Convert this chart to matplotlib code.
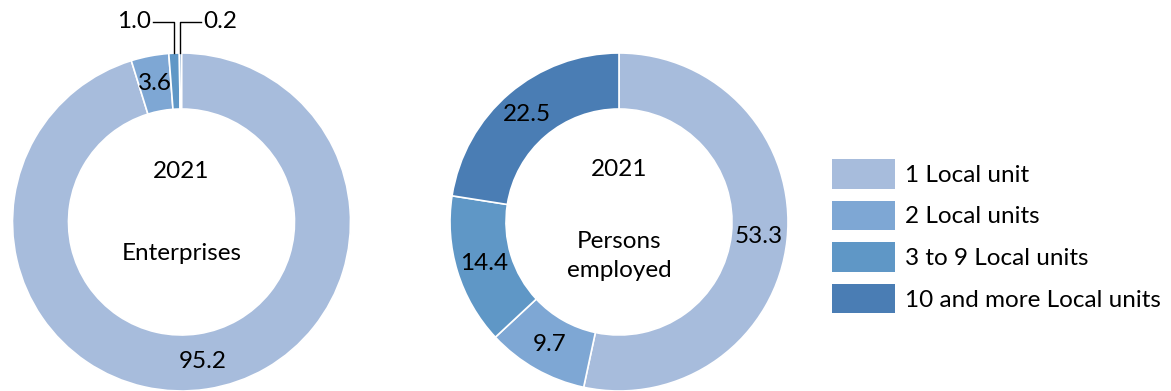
import numpy as np
import matplotlib
matplotlib.use('Agg')
import matplotlib.pyplot as plt
from matplotlib.patches import Patch

plt.rcParams['font.family'] = ['Lato', 'DejaVu Sans']

# Share by number of local units, 2021 (%)
categories = ['1 Local unit', '2 Local units', '3 to 9 Local units', '10 and more Local units']
enterprises = [95.2, 3.6, 1.0, 0.2]
persons_employed = [53.3, 9.7, 14.4, 22.5]
colors = ['#A7BCDC', '#7EA7D4', '#5F97C6', '#4A7DB4']

W, H = 1171, 391
fig = plt.figure(figsize=(W / 100, H / 100), dpi=100)
ax = fig.add_axes([0, 0, 1, 1])

R_OUT = 169
RING = 56
FS = 17.5


def donut(values, cx, cy):
    wedges, _ = ax.pie(values, colors=colors, startangle=90, counterclock=False,
                       radius=R_OUT, center=(cx, cy), frame=True,
                       wedgeprops=dict(width=RING, edgecolor='white', linewidth=1.2))
    return wedges


def mid_angle(w):
    return np.deg2rad((w.theta1 + w.theta2) / 2)


# left doughnut: enterprises
lx, ly = 181.5, H - 222
w_left = donut(enterprises, lx, ly)
r_mid = R_OUT - RING / 2
for w, v in zip(w_left, enterprises):
    a = mid_angle(w)
    if v >= 3:
        ax.text(lx + r_mid * np.cos(a), ly + r_mid * np.sin(a), f'{v:.1f}',
                ha='center', va='center', fontsize=FS)
    else:
        # small slices get an elbow leader line above the ring
        x0 = lx + R_OUT * np.cos(a)
        y0 = ly + R_OUT * np.sin(a)
        y1 = H - 22
        side = -1 if v >= 0.5 else 1
        x1 = x0 + side * 21
        ax.plot([x0, x0, x1], [y0, y1, y1], color='black', lw=1)
        ax.text(x1 + side * 2, y1, f'{v:.1f}', ha='right' if side < 0 else 'left',
                va='center', fontsize=FS)
ax.text(lx, H - 172, '2021', ha='center', va='center', fontsize=FS)
ax.text(lx, H - 253, 'Enterprises', ha='center', va='center', fontsize=FS)

# right doughnut: persons employed
rx, ry = 619, H - 222
w_right = donut(persons_employed, rx, ry)
for w, v in zip(w_right, persons_employed):
    a = mid_angle(w)
    ax.text(rx + r_mid * np.cos(a), ry + r_mid * np.sin(a), f'{v:.1f}',
            ha='center', va='center', fontsize=FS)
ax.text(rx, H - 170, '2021', ha='center', va='center', fontsize=FS)
ax.text(rx, H - 256, 'Persons\nemployed', ha='center', va='center', fontsize=FS,
        linespacing=1.45)

ax.set_xlim(0, W)
ax.set_ylim(0, H)
ax.set_aspect('equal')
ax.axis('off')

handles = [Patch(facecolor=c, edgecolor='none') for c in colors]
fs_px = FS * 100 / 72
hh = (29.5 / fs_px - 0.245) / 0.65
fig.legend(handles, categories, loc='upper left',
           bbox_to_anchor=(832 / W, 1 - 159 / H), bbox_transform=fig.transFigure,
           frameon=False, fontsize=FS, borderpad=0, borderaxespad=0,
           handlelength=63 / fs_px, handleheight=hh,
           handletextpad=10 / fs_px, labelspacing=0.5)

fig.savefig('out.png', dpi=100)
